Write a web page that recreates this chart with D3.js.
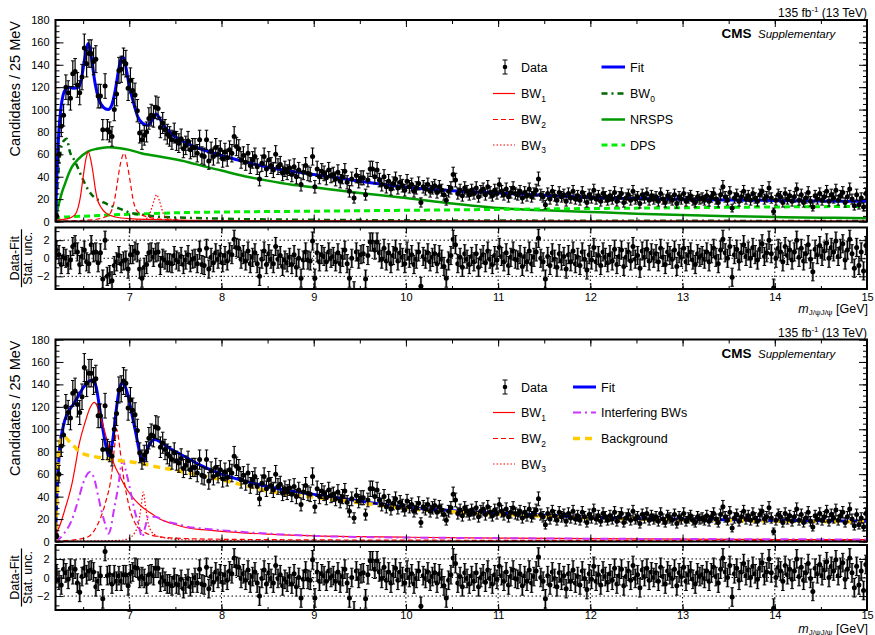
<!DOCTYPE html>
<html>
<head>
<meta charset="utf-8">
<script src="https://cdn.jsdelivr.net/npm/d3@7"></script>
<style>
  body { margin: 0; background: #fff; }
  svg { font-family: "Liberation Sans", Arial, Helvetica, sans-serif; }
</style>
</head>
<body>
<svg width="875" height="635"></svg>
<script>
// 25 MeV bins from 6.2 to 15 GeV (352 bins)
var binStart = 6.2, binWidth = 0.025;

var counts = [
  5,60,85,95,120,115,110,132,134,122,115,129,155,141,150,150,143,145,112,112,
  82,121,82,80,76,100,114,135,136,143,141,119,126,117,113,99,79,73,77,80,
  92,95,94,102,101,84,88,82,78,76,73,79,72,70,74,65,68,72,64,66,
  66,61,73,59,58,73,54,63,58,66,60,64,56,62,57,64,61,76,67,65,
  55,59,53,61,50,55,58,49,38,52,58,47,55,50,46,60,49,51,43,47,
  44,48,42,49,40,46,33,44,50,43,42,58,31,47,40,45,43,39,46,41,
  42,38,44,36,40,45,35,27,38,21,41,36,39,39,24,37,47,47,40,46,
  37,33,40,31,36,29,34,38,30,35,32,28,36,31,33,27,30,34,17,31,
  29,33,27,30,32,26,31,28,24,19,27,30,42,37,25,28,23,30,27,24,
  28,25,30,22,27,29,24,31,26,23,28,25,33,27,24,29,22,26,30,25,
  24,27,21,26,23,29,22,25,28,38,24,22,15,25,20,27,23,19,26,22,
  24,18,25,21,27,20,23,19,26,22,17,24,21,28,20,23,18,25,22,19,
  23,20,26,18,22,25,17,21,24,19,27,20,22,16,24,21,25,19,23,20,
  22,18,25,20,17,23,21,19,24,16,22,20,25,18,21,23,19,17,22,20,
  21,19,23,18,22,25,20,17,24,31,22,19,26,12,21,24,18,22,27,20,
  23,19,25,21,18,24,27,20,22,30,21,9,19,24,22,17,25,20,23,18,
  22,29,19,24,17,21,26,18,13,23,20,25,19,22,27,18,24,21,28,19,
  23,26,17,22,29,20,14,24,15,21,13,25
];

// pulls (data-fit)/stat.unc., first 60 bins differ between the two fits
var pullsTopLow = [
  0.9,0.4,-0.7,0.2,0.0,-0.7,-0.2,1.3,1.5,0.7,-0.7,0.2,0.9,-0.4,-0.6,1.5,0.6,0.7,-0.5,
  0.6,-2.3,2.0,-2.0,-1.8,-2.5,-0.8,-0.4,0.3,-0.6,-0.3,-0.2,-1.2,0.4,0.4,0.8,0.6,-1.2,-2.2,-1.0,-0.7,
  0.6,0.7,0.1,0.6,0.7,-0.8,0.0,-0.2,-0.5,-0.5,-0.6,0.3,-0.2,-0.4,0.2,-0.7,-0.2,0.4,-0.5,-0.1
];
var pullsBottomLow = [
  0.4,-0.3,-0.8,0.9,0.5,-0.2,1.0,0.3,0.9,-0.6,-1.6,0.1,1.0,0.3,0.7,0.8,0.6,-1.0,-0.4,0.2,
  -2.3,2.8,0.2,0.3,-0.7,0.3,-0.4,0.2,-0.4,0.3,0.3,-0.9,0.4,0.6,1.1,1.0,-0.1,0.1,-0.1,-0.7,
  0.3,0.4,0.2,1.0,1.0,-0.5,0.0,-0.4,-0.7,-0.7,-0.9,0.0,-0.7,-0.8,-0.2,-1.2,-0.7,-0.1,-1.0,-0.6
];
var pullsHigh = [
  0.0,-0.6,0.9,-0.7,-0.8,1.1,-1.2,0.1,-0.5,0.6,-0.1,0.4,-0.5,0.3,-0.3,0.7,0.4,2.1,1.2,1.1,
  -0.1,0.4,-0.3,0.8,-0.6,0.1,0.6,-0.6,-2.0,-0.1,0.8,-0.7,0.5,-0.1,-0.6,1.3,-0.1,0.3,-0.9,-0.2,
  -0.5,0.1,-0.7,0.4,-1.0,0.0,-2.2,-0.2,0.7,-0.2,-0.3,1.9,-2.2,0.6,-0.4,0.4,0.2,-0.4,0.7,0.0,
  0.2,-0.4,0.6,-0.6,0.1,0.9,-0.6,-2.2,0.0,-3.6,0.7,-0.1,0.4,0.5,-2.3,0.3,1.8,1.8,0.9,1.8,
  0.6,-0.1,1.1,-0.3,0.6,-0.6,0.3,1.0,-0.3,0.6,0.1,-0.6,0.8,0.0,0.4,-0.7,-0.1,0.7,-3.1,0.2,
  -0.1,0.6,-0.4,0.1,0.5,-0.6,0.4,-0.1,-0.9,-2.2,-0.3,0.3,2.1,1.5,-0.6,0.1,-1.0,0.5,-0.1,-0.7,
  0.2,-0.4,0.5,-1.0,0.0,0.4,-0.5,0.8,-0.1,-0.7,0.3,-0.2,1.2,0.2,-0.4,0.6,-0.8,0.1,0.8,-0.1,
  -0.2,0.4,-0.9,0.2,-0.4,0.8,-0.6,0.1,0.7,2.2,0.0,-0.4,-2.3,0.2,-0.8,0.6,-0.1,-1.0,0.5,-0.3,
  0.2,-1.2,0.4,-0.4,0.8,-0.6,0.1,-0.8,0.7,-0.1,-1.3,0.4,-0.2,1.2,-0.4,0.3,-0.8,0.7,0.1,-0.5,
  0.4,-0.3,1.0,-0.7,0.2,0.9,-0.9,0.1,0.7,-0.3,1.3,-0.1,0.3,-1.1,0.8,0.1,1.0,-0.3,0.6,0.0,
  0.5,-0.4,1.1,0.1,-0.7,0.7,0.3,-0.1,0.9,-0.9,0.5,0.1,1.1,-0.4,0.3,0.7,-0.2,-0.7,0.5,0.1,
  0.3,-0.1,0.7,-0.4,0.5,1.1,0.1,-0.6,0.9,2.1,0.6,0.0,1.3,-2.1,0.4,1.0,-0.3,0.6,1.5,0.2,
  0.8,0.0,1.2,0.4,-0.2,1.0,1.6,0.2,0.6,2.0,0.5,-3.3,0.0,1.1,0.7,-0.4,1.3,0.3,0.9,-0.2,
  0.7,2.0,0.1,1.1,-0.3,0.5,1.5,-0.1,-1.5,1.0,0.4,1.4,0.2,0.8,1.7,0.0,1.2,0.7,1.9,0.2,
  1.1,1.6,-0.2,0.9,2.1,0.5,-1.1,1.2,-0.8,0.7,-1.4,1.4
];

// top fit model: [mass GeV, candidates / 25 MeV]
var fitTop = [[6.2,0],[6.21,30],[6.225,62],[6.24,85],[6.26,102],[6.28,112],[6.3,117],[6.35,120],[6.4,119],[6.45,120],[6.48,127],[6.51,142],[6.54,156],[6.556,159],[6.575,154],[6.6,140],[6.63,123],[6.67,109],[6.72,102],[6.77,100],[6.81,104],[6.85,118],[6.89,138],[6.92,147],[6.94,146],[6.97,135],[7.0,121],[7.04,108],[7.09,94],[7.14,88],[7.2,86],[7.25,91],[7.29,96],[7.33,92],[7.38,85],[7.45,79],[7.55,73],[7.65,69],[7.77,65],[8,59],[8.25,53.5],[8.5,48.5],[8.75,45],[9,42],[9.25,39],[9.5,36],[9.75,33],[10,30.5],[10.5,27.5],[11,25.5],[11.5,23.5],[12,21.5],[12.5,20.5],[13,19.8],[13.5,19.3],[14,18.8],[14.5,18.4],[15,18]];
var nrspsTop = [[6.2,0],[6.22,10],[6.25,20],[6.27,26],[6.3,33],[6.35,44],[6.38,49],[6.45,56],[6.55,62.5],[6.65,65],[6.77,66.4],[6.9,65.5],[7.0,64],[7.13,61],[7.4,57],[7.64,53],[7.8,49.5],[8.0,45.5],[8.25,40.5],[8.5,36.5],[8.75,33],[9.0,30.5],[9.5,25.5],[10,21],[10.5,16],[11,12],[11.5,10],[12,8.5],[12.5,7],[13,5.8],[13.5,4.8],[14,4],[14.5,3.4],[15,3]];
var dpsTop = [[6.2,0],[6.23,2.5],[6.3,4],[6.6,5],[6.9,6.2],[7.2,7],[7.6,8],[8,8.5],[9,9.2],[10,10],[11,10.8],[12,11.6],[13,12.3],[14,13],[15,13.5]];
var bw0Top = [[6.2,0],[6.22,30],[6.24,52],[6.267,68],[6.3,73],[6.32,74],[6.357,62],[6.41,54],[6.484,40],[6.556,28],[6.628,21],[6.7,18],[6.8,14],[6.88,12],[7.026,7.5],[7.15,6],[7.28,4.5],[7.6,3.4],[8,2.5],[9,1.5],[10,1.1],[12,0.7],[15,0.5]];
var bw1Top = [[6.2,1],[6.35,3],[6.41,6],[6.45,14],[6.47,22],[6.5,40],[6.53,56],[6.556,62.5],[6.58,56],[6.61,42],[6.63,30],[6.65,21],[6.7,12],[6.74,8],[6.85,4],[7,2.5],[7.5,1.2],[8,0.8],[10,0.4],[15,0.2]];
var bw2Top = [[6.2,0.3],[6.6,1.5],[6.7,3],[6.78,6],[6.81,10],[6.84,19],[6.864,31],[6.9,50],[6.946,61],[6.98,50],[7.019,31],[7.04,20],[7.062,13],[7.1,8],[7.2,4],[7.35,2],[7.6,1],[8,0.6],[15,0.2]];
var bw3Top = [[6.2,0.1],[7.1,1],[7.2,3.5],[7.243,12],[7.27,19],[7.298,24],[7.325,19],[7.35,12],[7.38,5],[7.45,2],[7.6,0.8],[8,0.3],[15,0.1]];

// bottom fit model (interference)
var fitBottom = [[6.2,0],[6.21,30],[6.23,64],[6.25,88],[6.267,96],[6.3,108],[6.35,117],[6.4,123],[6.45,130],[6.5,137],[6.55,142],[6.6,144],[6.64,138],[6.68,118],[6.72,97],[6.75,84],[6.775,76],[6.8,80],[6.83,96],[6.86,118],[6.89,135],[6.92,141],[6.95,139],[6.99,129],[7.03,113],[7.07,97],[7.1,84],[7.13,72],[7.15,70],[7.18,78],[7.22,87],[7.28,91],[7.35,88],[7.46,82],[7.55,78],[7.64,74],[7.77,68],[8,60],[8.25,54],[8.5,49],[8.75,45],[9,42],[9.25,39],[9.5,36],[9.75,33],[10,30.5],[10.5,27.5],[11,25.5],[11.5,23.5],[12,21.5],[12.5,20.5],[13,19.8],[13.5,19.3],[14,18.8],[14.5,18.4],[15,18]];
var bkgBottom = [[6.2,0],[6.21,25],[6.225,60],[6.245,85],[6.27,93],[6.3,93],[6.35,89],[6.4,85],[6.48,79],[6.6,76],[6.74,74],[6.9,72],[7.1,70],[7.3,66.5],[7.5,63.5],[7.64,61],[7.8,58.5],[8.0,55],[8.25,50],[8.5,45],[8.75,42],[9,39.5],[9.25,37],[9.5,34.5],[9.75,32],[10,29.5],[10.5,26.5],[11,24.5],[11.5,22.5],[12,21],[12.5,20],[13,19.3],[13.5,18.8],[14,18.3],[14.5,17.9],[15,17.5]];
var bw1Bottom = [[6.2,6],[6.25,15],[6.3,28],[6.35,42],[6.38,52],[6.41,65],[6.46,88],[6.52,106],[6.58,120],[6.62,124],[6.66,119],[6.7,108],[6.75,93],[6.79,80],[6.84,68],[6.88,61],[6.97,47],[7.06,37],[7.15,30],[7.24,25],[7.33,20],[7.46,16],[7.64,12],[7.8,10.5],[8,9],[8.5,6.5],[9,5],[9.5,4.3],[10,3.8],[11,3],[12,2.5],[13,2.1],[14,1.8],[15,1.6]];
var bw2Bottom = [[6.2,0.5],[6.4,1.5],[6.55,4],[6.65,14],[6.74,34],[6.81,61],[6.845,88],[6.864,100],[6.89,88],[6.92,68],[6.97,42],[7.02,25],[7.08,14],[7.17,8],[7.3,4.5],[7.5,3],[8,2],[10,1.2],[15,0.8]];
var bw3Bottom = [[6.2,0.2],[6.9,1],[7.0,3],[7.06,8],[7.1,16],[7.13,32],[7.152,44],[7.175,32],[7.2,18],[7.24,9],[7.3,5],[7.4,3],[7.6,1.5],[8,0.8],[10,0.3],[15,0.2]];
var interfBottom = [[6.2,0],[6.25,3],[6.3,8],[6.376,19],[6.447,37],[6.5,52],[6.574,62],[6.62,56],[6.664,40],[6.7,27],[6.737,16],[6.773,7],[6.8,12],[6.827,25],[6.88,49],[6.918,70],[6.935,72],[6.96,64],[7.0,50],[7.026,40],[7.06,27],[7.098,16],[7.14,4],[7.17,12],[7.206,22],[7.28,22],[7.39,18],[7.5,16],[7.64,13],[7.8,11.5],[8,10],[8.5,7],[9,5],[9.5,4],[10,3.5],[11,3],[12,2.5],[13,2.2],[14,2],[15,1.8]];

var xMajor = [7, 8, 9, 10, 11, 12, 13, 14, 15];

var svg = d3.select('svg');
var defs = svg.append('defs');
var x = d3.scaleLinear().domain([6.2, 15]).range([55.5, 867]);
var fontFam = '"Liberation Sans", Arial, Helvetica, sans-serif';

var styles = {
  fit:    { color: '#0000ff', width: 3 },
  nrsps:  { color: '#009900', width: 2.5 },
  dps:    { color: '#00ee00', width: 3, dash: '6,4' },
  bw0:    { color: '#006600', width: 2.5, dash: '6,4,2,4' },
  bw1:    { color: '#ff0000', width: 1.2 },
  bw2:    { color: '#ff0000', width: 1.2, dash: '5,3' },
  bw3:    { color: '#ff0000', width: 1.2, dash: '1.5,2' },
  interf: { color: '#cc33ff', width: 2, dash: '8,4,2,4' },
  bkg:    { color: '#ffcc00', width: 3.5, dash: '7,5' }
};

var panels = [
  {
    top: 20, bottom: 221.5, rTop: 227.5, rBottom: 289, rMax: 3.4,
    pulls: pullsTopLow.concat(pullsHigh),
    curves: [
      [nrspsTop, styles.nrsps], [dpsTop, styles.dps], [bw0Top, styles.bw0],
      [bw1Top, styles.bw1], [bw2Top, styles.bw2], [bw3Top, styles.bw3], [fitTop, styles.fit]
    ],
    legendLeft: [['BW', '1', styles.bw1], ['BW', '2', styles.bw2], ['BW', '3', styles.bw3]],
    legendRight: [['Fit', '', styles.fit], ['BW', '0', styles.bw0], ['NRSPS', '', styles.nrsps], ['DPS', '', styles.dps]],
    legRows: [67, 93.5, 119.5, 145], rightLine: [601.5, 625], rightText: 630,
    labelPad: 4, titleY: 313
  },
  {
    top: 339.5, bottom: 541.5, rTop: 545, rBottom: 610, rMax: 3.5,
    pulls: pullsBottomLow.concat(pullsHigh),
    curves: [
      [fitBottom, styles.fit], [bw1Bottom, styles.bw1], [bw2Bottom, styles.bw2], [bw3Bottom, styles.bw3],
      [interfBottom, styles.interf], [bkgBottom, styles.bkg]
    ],
    legendLeft: [['BW', '1', styles.bw1], ['BW', '2', styles.bw2], ['BW', '3', styles.bw3]],
    legendRight: [['Fit', '', styles.fit], ['Interfering BWs', '', styles.interf], ['Background', '', styles.bkg]],
    legRows: [387, 412.5, 438.5, 464], rightLine: [573, 596], rightText: 601,
    labelPad: 1, titleY: 632.5
  }
];

function styleLine(sel, s) {
  sel.attr('fill', 'none').attr('stroke', s.color).attr('stroke-width', s.width);
  if (s.dash) sel.attr('stroke-dasharray', s.dash);
  return sel;
}

function cleanAxis(g) {
  g.select('.domain').remove();
  g.selectAll('.tick line').attr('stroke', '#000').attr('stroke-width', 1);
  g.selectAll('text').attr('font-family', fontFam).attr('font-size', 11).attr('fill', '#000');
  g.attr('font-family', null);
}

panels.forEach(function(p, idx) {
  var g = svg.append('g');
  var y = d3.scaleLinear().domain([0, 180]).range([p.bottom, p.top]);
  var yr = d3.scaleLinear().domain([-p.rMax, p.rMax]).range([p.rBottom, p.rTop]);

  defs.append('clipPath').attr('id', 'cm' + idx).append('rect')
    .attr('x', 55.5).attr('y', p.top).attr('width', 867 - 55.5).attr('height', p.bottom - p.top);
  defs.append('clipPath').attr('id', 'cr' + idx).append('rect')
    .attr('x', 55.5).attr('y', p.rTop).attr('width', 867 - 55.5).attr('height', p.rBottom - p.rTop);

  // model curves
  var line = d3.line().x(function(d) { return x(d[0]); }).y(function(d) { return y(d[1]); })
    .curve(d3.curveMonotoneX);
  var gc = g.append('g').attr('clip-path', 'url(#cm' + idx + ')');
  p.curves.forEach(function(c) {
    styleLine(gc.append('path').attr('d', line(c[0])), c[1]);
  });

  // data
  var bins = counts.map(function(n, i) {
    return { m: binStart + binWidth * (i + 0.5), n: n, pull: p.pulls[i] };
  });
  var gd = g.append('g').attr('clip-path', 'url(#cm' + idx + ')');
  var pts = gd.selectAll('g.pt').data(bins).enter().append('g');
  pts.append('line')
    .attr('x1', function(d) { return x(d.m); }).attr('x2', function(d) { return x(d.m); })
    .attr('y1', function(d) { return y(d.n - Math.sqrt(d.n)); })
    .attr('y2', function(d) { return y(d.n + Math.sqrt(d.n)); })
    .attr('stroke', '#000').attr('stroke-width', 1.2);
  [-1, 1].forEach(function(s) {
    pts.append('line')
      .attr('x1', function(d) { return x(d.m) - 1.8; }).attr('x2', function(d) { return x(d.m) + 1.8; })
      .attr('y1', function(d) { return y(d.n + s * Math.sqrt(d.n)); })
      .attr('y2', function(d) { return y(d.n + s * Math.sqrt(d.n)); })
      .attr('stroke', '#000').attr('stroke-width', 1);
  });
  pts.append('circle').attr('cx', function(d) { return x(d.m); }).attr('cy', function(d) { return y(d.n); })
    .attr('r', 2.5).attr('fill', '#000');

  // residual panel: dotted grid
  var gr = g.append('g');
  [-2, 0, 2].forEach(function(v) {
    gr.append('line').attr('x1', 55.5).attr('x2', 867).attr('y1', yr(v)).attr('y2', yr(v))
      .attr('stroke', '#000').attr('stroke-dasharray', '1.5,2.5');
  });
  xMajor.slice(0, -1).forEach(function(v) {
    gr.append('line').attr('x1', x(v)).attr('x2', x(v)).attr('y1', p.rTop).attr('y2', p.rBottom)
      .attr('stroke', '#000').attr('stroke-dasharray', '1.5,2.5');
  });
  var grp = gr.append('g').attr('clip-path', 'url(#cr' + idx + ')');
  var rp = grp.selectAll('g.rp').data(bins).enter().append('g');
  rp.append('rect')
    .attr('x', function(d) { return x(d.m) - 1.2; }).attr('width', 2.4)
    .attr('y', function(d) { return yr(d.pull + 1); })
    .attr('height', function(d) { return yr(d.pull - 1) - yr(d.pull + 1); })
    .attr('fill', '#999');
  rp.append('line')
    .attr('x1', function(d) { return x(d.m); }).attr('x2', function(d) { return x(d.m); })
    .attr('y1', function(d) { return yr(d.pull - 1); }).attr('y2', function(d) { return yr(d.pull + 1); })
    .attr('stroke', '#000').attr('stroke-width', 1.2);
  [-1, 1].forEach(function(s) {
    rp.append('line')
      .attr('x1', function(d) { return x(d.m) - 1.8; }).attr('x2', function(d) { return x(d.m) + 1.8; })
      .attr('y1', function(d) { return yr(d.pull + s); }).attr('y2', function(d) { return yr(d.pull + s); })
      .attr('stroke', '#000').attr('stroke-width', 1);
  });
  rp.append('circle').attr('cx', function(d) { return x(d.m); }).attr('cy', function(d) { return yr(d.pull); })
    .attr('r', 2.5).attr('fill', '#000');

  // axes: main panel
  var xMinor = d3.range(6.5, 15, 0.5);
  g.append('g').attr('transform', 'translate(0,' + p.top + ')')
    .call(d3.axisBottom(x).tickValues(xMajor).tickSizeInner(7).tickSizeOuter(0).tickFormat('')).call(cleanAxis);
  g.append('g').attr('transform', 'translate(0,' + p.top + ')')
    .call(d3.axisBottom(x).tickValues(xMinor).tickSizeInner(4).tickSizeOuter(0).tickFormat('')).call(cleanAxis);
  g.append('g').attr('transform', 'translate(0,' + p.bottom + ')')
    .call(d3.axisTop(x).tickValues(xMajor).tickSizeInner(7).tickSizeOuter(0).tickFormat('')).call(cleanAxis);
  g.append('g').attr('transform', 'translate(0,' + p.bottom + ')')
    .call(d3.axisTop(x).tickValues(xMinor).tickSizeInner(4).tickSizeOuter(0).tickFormat('')).call(cleanAxis);

  g.append('g').attr('transform', 'translate(55.5,0)')
    .call(d3.axisLeft(y).tickValues(d3.range(0, 181, 20)).tickSizeInner(-8).tickSizeOuter(0).tickPadding(6)).call(cleanAxis);
  g.append('g').attr('transform', 'translate(55.5,0)')
    .call(d3.axisLeft(y).tickValues(d3.range(0, 181, 5)).tickSizeInner(-4).tickSizeOuter(0).tickFormat('')).call(cleanAxis);
  g.append('g').attr('transform', 'translate(867,0)')
    .call(d3.axisRight(y).tickValues(d3.range(0, 181, 20)).tickSizeInner(-8).tickSizeOuter(0).tickFormat('')).call(cleanAxis);
  g.append('g').attr('transform', 'translate(867,0)')
    .call(d3.axisRight(y).tickValues(d3.range(0, 181, 5)).tickSizeInner(-4).tickSizeOuter(0).tickFormat('')).call(cleanAxis);

  // axes: residual panel
  g.append('g').attr('transform', 'translate(0,' + p.rTop + ')')
    .call(d3.axisBottom(x).tickValues(xMajor).tickSizeInner(6).tickSizeOuter(0).tickFormat('')).call(cleanAxis);
  g.append('g').attr('transform', 'translate(0,' + p.rTop + ')')
    .call(d3.axisBottom(x).tickValues(xMinor).tickSizeInner(3).tickSizeOuter(0).tickFormat('')).call(cleanAxis);
  g.append('g').attr('transform', 'translate(0,' + p.rBottom + ')')
    .call(d3.axisBottom(x).tickValues(xMajor).tickSizeInner(-6).tickSizeOuter(0).tickPadding(p.labelPad)).call(cleanAxis);
  g.append('g').attr('transform', 'translate(0,' + p.rBottom + ')')
    .call(d3.axisBottom(x).tickValues(xMinor).tickSizeInner(-3).tickSizeOuter(0).tickFormat('')).call(cleanAxis);
  g.append('g').attr('transform', 'translate(55.5,0)')
    .call(d3.axisLeft(yr).tickValues([-2, 0, 2]).tickFormat(d3.format('d')).tickSizeInner(-8).tickSizeOuter(0).tickPadding(6)).call(cleanAxis);
  g.append('g').attr('transform', 'translate(55.5,0)')
    .call(d3.axisLeft(yr).tickValues([-3, -1, 1, 3]).tickSizeInner(-4).tickSizeOuter(0).tickFormat('')).call(cleanAxis);
  g.append('g').attr('transform', 'translate(867,0)')
    .call(d3.axisRight(yr).tickValues([-2, 0, 2]).tickSizeInner(-8).tickSizeOuter(0).tickFormat('')).call(cleanAxis);

  // frames
  g.append('rect').attr('x', 55.5).attr('y', p.top).attr('width', 867 - 55.5).attr('height', p.bottom - p.top)
    .attr('fill', 'none').attr('stroke', '#000').attr('stroke-width', 2);
  g.append('rect').attr('x', 55.5).attr('y', p.rTop).attr('width', 867 - 55.5).attr('height', p.rBottom - p.rTop)
    .attr('fill', 'none').attr('stroke', '#000').attr('stroke-width', 2);

  // axis titles
  g.append('text').attr('transform', 'translate(20,' + (p.top + 1) + ') rotate(-90)')
    .attr('text-anchor', 'end').attr('font-size', 14.5).text('Candidates / 25 MeV');
  var rc = (p.rTop + p.rBottom) / 2;
  g.append('text').attr('transform', 'translate(19,' + rc + ') rotate(-90)')
    .attr('text-anchor', 'middle').attr('font-size', 12.5).text('Data-Fit');
  g.append('line').attr('x1', 21.5).attr('x2', 21.5).attr('y1', rc - 29).attr('y2', rc + 29)
    .attr('stroke', '#000').attr('stroke-width', 1.2);
  g.append('text').attr('transform', 'translate(32,' + rc + ') rotate(-90)')
    .attr('text-anchor', 'middle').attr('font-size', 12.5).text('Stat. unc.');

  var xt = g.append('text').attr('x', 868).attr('y', p.titleY).attr('text-anchor', 'end').attr('font-size', 12.5);
  xt.append('tspan').attr('font-style', 'italic').text('m');
  xt.append('tspan').attr('font-size', 8).attr('dy', 2).text('J/\u03c8J/\u03c8');
  xt.append('tspan').attr('dy', -2).text(' [GeV]');

  // header
  var lumi = g.append('text').attr('x', 867).attr('y', p.top - 3).attr('text-anchor', 'end').attr('font-size', 12);
  lumi.append('tspan').text('135 fb');
  lumi.append('tspan').attr('font-size', 8).attr('dy', -5).text('-1');
  lumi.append('tspan').attr('dy', 5).text(' (13 TeV)');
  g.append('text').attr('x', 721.5).attr('y', p.top + 18).attr('font-size', 13.5).attr('font-weight', 'bold').text('CMS');
  g.append('text').attr('x', 758).attr('y', p.top + 18).attr('font-size', 11.5).attr('font-style', 'italic').text('Supplementary');

  // legend
  var lg = g.append('g').attr('font-size', 12.5);
  var r0 = p.legRows[0];
  lg.append('line').attr('x1', 505).attr('x2', 505).attr('y1', r0 - 7).attr('y2', r0 + 7).attr('stroke', '#000');
  lg.append('line').attr('x1', 502.5).attr('x2', 507.5).attr('y1', r0 - 7).attr('y2', r0 - 7).attr('stroke', '#000');
  lg.append('line').attr('x1', 502.5).attr('x2', 507.5).attr('y1', r0 + 7).attr('y2', r0 + 7).attr('stroke', '#000');
  lg.append('circle').attr('cx', 505).attr('cy', r0).attr('r', 2.3).attr('fill', '#000');
  lg.append('text').attr('x', 521).attr('y', r0 + 4.5).text('Data');

  function entry(e, row, x1, x2, tx) {
    styleLine(lg.append('line').attr('x1', x1).attr('x2', x2).attr('y1', row).attr('y2', row), e[2]);
    var t = lg.append('text').attr('x', tx).attr('y', row + 4.5).text(e[0]);
    if (e[1]) t.append('tspan').attr('font-size', 8.5).attr('dy', 3.5).text(e[1]);
  }
  p.legendLeft.forEach(function(e, i) { entry(e, p.legRows[i + 1], 493, 515, 521); });
  p.legendRight.forEach(function(e, i) { entry(e, p.legRows[i], p.rightLine[0], p.rightLine[1], p.rightText); });
});
</script>
</body>
</html>
